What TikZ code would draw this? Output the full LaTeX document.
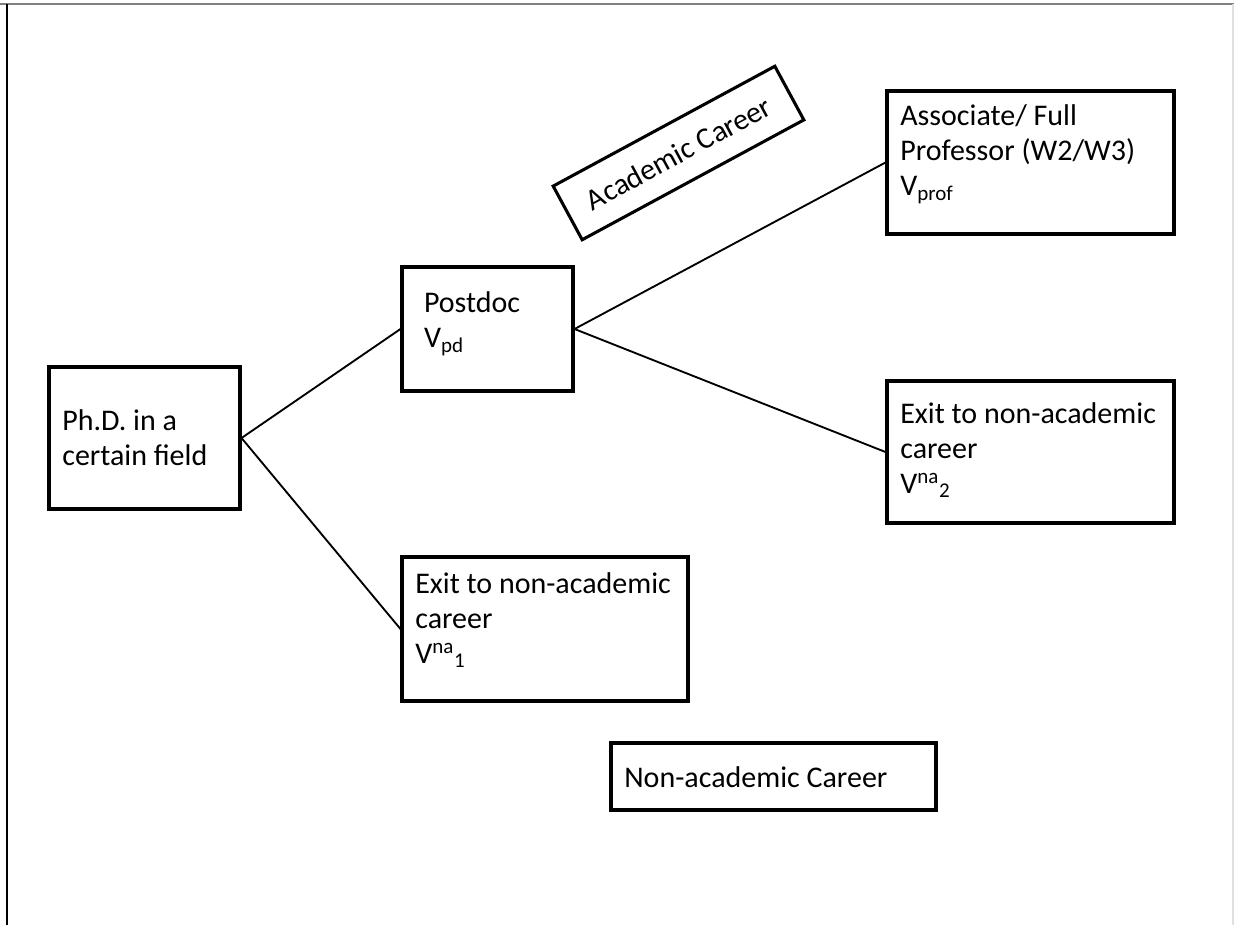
\documentclass[tikz,border=0pt]{standalone}
\usepackage{fontspec}
\setmainfont{Carlito}
\frenchspacing
\newcommand\plainspaces{\spaceskip=0pt\relax\xspaceskip=0pt\relax}

\begin{document}
\begin{tikzpicture}[x=0.75pt,y=-0.75pt,
  box/.style={draw, line width=2.3pt, align=flush left, inner xsep=10pt, inner ysep=0pt,
    font=\fontsize{22.5}{26.5}\selectfont,
    execute at begin node={\plainspaces}},
  link/.style={line width=1.4pt}]
\useasboundingbox (0,0) rectangle (1234,925);

% page edges
\draw[gray, line width=1.5pt] (0,4) -- (1234,4);
\draw[line width=1.5pt] (7,4) -- (7,925);
\draw[black!12, line width=1pt] (1233,4) -- (1233,925);

% text height = top to first baseline, text depth = the rest of the box
\node[box, text width=123.25pt, text height=47.25pt, text depth=59.25pt] at (144.5,438) (phd)
  {Ph.D. in a\\certain field};
\node[box, inner xsep=16.5pt, text width=95.25pt, text height=33.75pt, text depth=59.25pt] at (487.5,329) (postdoc)
  {Postdoc\\V\textsubscript{pd}};
\node[box, text width=195.25pt, text height=25.5pt, text depth=81.75pt] at (1030.5,162.5) (prof)
  {Associate/ Full\\Professor (W2/W3)\\V\textsubscript{prof}};
\node[box, text width=195.25pt, text height=31.5pt, text depth=75pt] at (1030.5,452) (exittwo)
  {Exit to non-academic\\career\\V\textsuperscript{na}\textsubscript{2}};
\node[box, text width=194.5pt, text height=27pt, text depth=81pt] at (545,629) (exitone)
  {Exit to non-academic\\career\\V\textsuperscript{na}\textsubscript{1}};

\node[box, text width=223.75pt, text height=33pt, text depth=17.25pt] at (773.5,776.5) (nonacad)
  {Non-academic Career};
\node[box, align=center, rotate=28.4, minimum width=189pt, minimum height=45.75pt] at (678.5,153) (acad)
  {Academic Career};

\draw[link] (phd.east) -- (postdoc.west);
\draw[link] (phd.east) -- (exitone.west);
\draw[link] (postdoc.east) -- (prof.west);
\draw[link] (postdoc.east) -- (exittwo.west);

\end{tikzpicture}
\end{document}
